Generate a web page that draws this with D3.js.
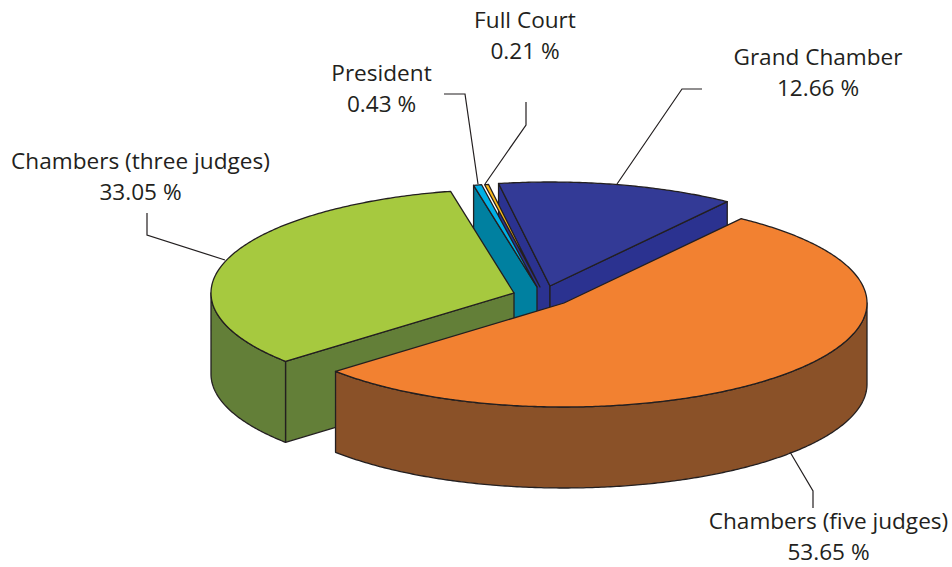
<!DOCTYPE html>
<html><head><meta charset="utf-8">
<style>html,body{margin:0;background:#fff}svg{display:block}text{font-family:"Open Sans","Noto Sans",sans-serif;fill:#231F20;font-size:22.6px}</style>
<script src="https://cdn.jsdelivr.net/npm/d3@7/dist/d3.min.js"></script></head>
<body><svg id="c" width="952" height="567"></svg>
<script>
const categories=["Chambers (five judges)","Chambers (three judges)","President","Full Court","Grand Chamber"];
const shares=[53.65,33.05,0.43,0.21,12.66];
const topColors=["#F28131","#A6C93F","#00B0E6","#FDBB1C","#333A96"];
const sideColors=["#8A5128","#637F38","#0080A0","#C8921A","#2B3290"];
// layout
const W=952,H=567,RX=303,RY=104,DEPTH=81;
const apex=[[564,303],[514,293],[537,287],[540,287],[550,286]];
const drawOrder=[4,3,2,1,0];
const noCutWall=[3];
const startDeg=35.8;
const labelPos=[[828.5,529],[140.5,169],[381.5,81],[525,28],[818,65]];
const leaders=[[[790,452],[813,491],[813,508]],[[225,260],[147,235],[147,213]],[[478,184],[465,94],[444,94]],[[485,184],[526,125],[526,102]],[[617,184],[682,89],[702,89]]];

const svg=d3.select("#c");
const start=startDeg*Math.PI/180;
const arcs=d3.pie().sort(null).value(d=>d).startAngle(start).endAngle(start+2*Math.PI)(shares);
const px=i=>d3.scaleLinear().domain([-1,1]).range([apex[i][0]-RX,apex[i][0]+RX]);
const py=i=>d3.scaleLinear().domain([-1,1]).range([apex[i][1]+RY,apex[i][1]-RY]);
const rim=(i,a,dz=0)=>[px(i)(Math.sin(a)),py(i)(Math.cos(a))+dz];
const samples=(a0,a1)=>{const n=Math.max(2,Math.ceil(Math.abs(a1-a0)/0.01));return d3.range(n+1).map(k=>a0+(a1-a0)*k/n);};
const line=d3.line();
const edge={stroke:"#231F20","stroke-width":1.3,"stroke-linejoin":"round"};
function shape(pts,fill){
  const p=svg.append("path").attr("d",line(pts)+"Z").attr("fill",fill);
  Object.entries(edge).forEach(([k,v])=>p.attr(k,v));
}
function wall(i,a,fill){
  const A=[apex[i][0],apex[i][1]],R=rim(i,a);
  shape([A,R,[R[0],R[1]+DEPTH],[A[0],A[1]+DEPTH]],fill);
}
function rimWall(i,a0,a1,fill){
  const s=samples(a0,a1);
  shape([...s.map(a=>rim(i,a)),...s.slice().reverse().map(a=>rim(i,a,DEPTH))],fill);
}
const TAU=2*Math.PI;
drawOrder.forEach(i=>{
  const d=arcs[i];
  const a0=d.startAngle,a1=d.endAngle;
  if(!noCutWall.includes(i) && (a0%TAU)>Math.PI) wall(i,a0,sideColors[i]);
  if((a1%TAU)<Math.PI/2) wall(i,a1,sideColors[i]);
  const lo=Math.max(a0,Math.PI/2),hi=Math.min(a1,1.5*Math.PI);
  if(hi>lo) rimWall(i,lo,hi,sideColors[i]);
  shape([[apex[i][0],apex[i][1]],...samples(a0,a1).map(a=>rim(i,a))],topColors[i]);
});
leaders.forEach(l=>svg.append("path").attr("d",line(l)).attr("fill","none").attr("stroke","#231F20").attr("stroke-width",1.2));
categories.forEach((c,i)=>{
  svg.append("text").attr("text-anchor","middle").attr("x",labelPos[i][0]).attr("y",labelPos[i][1]).text(c);
  svg.append("text").attr("text-anchor","middle").attr("x",labelPos[i][0]).attr("y",labelPos[i][1]+31).text(shares[i].toFixed(2)+" %");
});
</script></body></html>
